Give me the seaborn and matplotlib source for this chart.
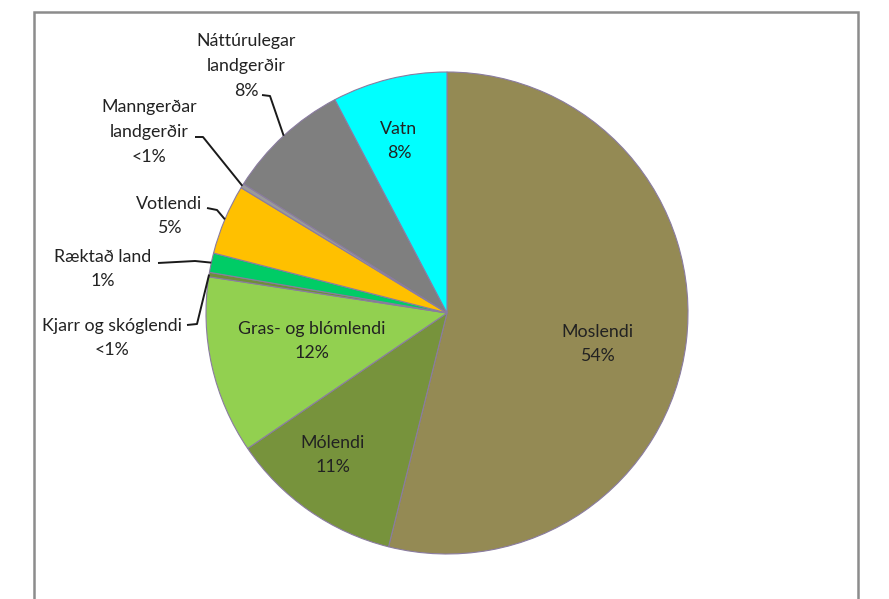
import numpy as np
import matplotlib
matplotlib.use("Agg")
import matplotlib.pyplot as plt
import seaborn as sns
from matplotlib.patches import Rectangle

sns.set_theme(style="white")
plt.rcParams['font.family'] = ['Lato', 'DejaVu Sans']

categories = ["Moslendi", "Mólendi", "Gras- og blómlendi", "Kjarr og skóglendi",
              "Ræktað land", "Votlendi", "Manngerðar\nlandgerðir",
              "Náttúrulegar\nlandgerðir", "Vatn"]
values = [53.9, 11.6, 11.9, 0.3, 1.3, 4.7, 0.3, 8.3, 7.7]
pct_labels = ["54%", "11%", "12%", "<1%", "1%", "5%", "<1%", "8%", "8%"]
colors = ["#948A54", "#77933C", "#92D050", "#6E8F3A", "#00CC66", "#FFC000",
          "#9A9A9A", "#7F7F7F", "#00FFFF"]

W, H = 889, 599
fig = plt.figure(figsize=(W / 100, H / 100), dpi=100)
fig.patch.set_facecolor("white")

# pie axes: center (447, 313) px, radius 241 px
cx, cy, r = 447, 313, 241
ax = fig.add_axes([(cx - r) / W, 1 - (cy + r) / H, 2 * r / W, 2 * r / H])
wedges, _ = ax.pie(values, colors=colors, startangle=90, counterclock=False,
                   wedgeprops=dict(edgecolor="#8A7CA0", linewidth=0.8))
ax.set_xlim(-1, 1)
ax.set_ylim(-1, 1)
ax.set_aspect("equal")
ax.axis("off")

def px2d(px, py):
    return ((px - cx) / r, (cy - py) / r)

fs = 12.8
ls = 1.68
tc = "#222222"

# inside labels (pixel centers)
inside = {0: (597, 344), 1: (333, 455), 2: (312, 341), 8: (399, 141)}
for i, (px, py) in inside.items():
    x, y = px2d(px, py)
    ax.text(x, y, f"{categories[i]}\n{pct_labels[i]}", ha="center", va="center",
            fontsize=fs, color=tc, linespacing=ls, clip_on=False)

# outside labels: text center, leader start, elbow
outside = {
    7: ((246, 66), (262, 95), (270, 96)),
    6: ((149, 132), (195, 137), (203, 137)),
    5: ((169, 216), (207, 208), (217, 210)),
    4: ((103, 269), (158, 263), (195, 261)),
    3: ((112, 338), (187, 325), (197, 324)),
}
for i, (tpos, start, elbow) in outside.items():
    x, y = px2d(*tpos)
    ax.text(x, y, f"{categories[i]}\n{pct_labels[i]}", ha="center", va="center",
            fontsize=fs, color=tc, linespacing=ls, clip_on=False)
    w = wedges[i]
    mid = np.deg2rad((w.theta1 + w.theta2) / 2)
    ex, ey = np.cos(mid), np.sin(mid)
    sx, sy = px2d(*start)
    bx, by = px2d(*elbow)
    ax.plot([sx, bx, ex], [sy, by, ey], color="#1a1a1a", lw=1.4,
            solid_capstyle="butt", clip_on=False)

# chart frame
fig.add_artist(Rectangle((34 / W, -0.05), (858 - 34) / W, 1.05 - 12 / H,
                         transform=fig.transFigure, fill=False,
                         edgecolor="#8C8C8C", linewidth=1.8))

fig.savefig("out.png", dpi=100, facecolor="white")
